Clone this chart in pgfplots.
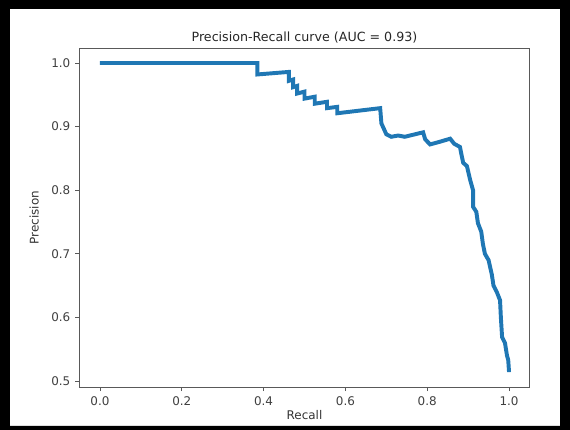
\documentclass[border=0pt]{standalone}
\usepackage{fontspec}
\setmainfont{DejaVu Sans}
\usepackage{pgfplots}
\pgfplotsset{compat=1.18}
\definecolor{mplblue}{HTML}{1F77B4}
\definecolor{spine}{gray}{0.35}

\begin{document}
\begin{tikzpicture}
\begin{axis}[
    at={(0,0)}, anchor=south west,
    scale only axis,
    width=11.25cm, height=8.475cm,
    xmin=-0.05, xmax=1.05,
    ymin=0.4906, ymax=1.0236,
    xtick={0,0.2,...,1.0},
    ytick={0.5,0.6,...,1.0},
    /pgf/number format/assume math mode=true,
    /pgf/number format/.cd, fixed, fixed zerofill, precision=1, /pgfplots/.cd,
    tick label style={font=\fontsize{8.5}{10}\selectfont, text=black!75},
    label style={font=\fontsize{8.5}{10}\selectfont, text=black!80},
    title style={font=\fontsize{9}{11}\selectfont, text=black!85, yshift=-6pt},
    title={Precision-Recall curve (AUC = 0.93)},
    xlabel={Recall}, ylabel={Precision},
    xlabel style={yshift=3pt},
    ylabel style={yshift=2pt},
    tick align=outside, tick pos=left,
    major tick length=3pt,
    every tick/.style={spine, line width=0.6pt},
    axis line style={spine, line width=0.7pt},
    clip=false,
]
\addplot[mplblue, line width=2.8pt, no marks] coordinates {
(0.000,1.000) (0.385,1.000) (0.385,0.982) (0.462,0.986)
(0.462,0.972) (0.472,0.974) (0.472,0.962) (0.482,0.964)
(0.482,0.952) (0.500,0.955) (0.500,0.944) (0.525,0.947)
(0.525,0.936) (0.555,0.939) (0.555,0.929) (0.580,0.931)
(0.580,0.921) (0.685,0.929) (0.688,0.905) (0.700,0.888)
(0.712,0.884) (0.729,0.886) (0.745,0.884) (0.790,0.891)
(0.795,0.880) (0.807,0.872) (0.830,0.876) (0.856,0.881)
(0.866,0.873) (0.880,0.868) (0.884,0.855) (0.888,0.843)
(0.897,0.838) (0.905,0.816) (0.912,0.800) (0.912,0.774)
(0.920,0.766) (0.924,0.748) (0.932,0.735) (0.936,0.716)
(0.941,0.700) (0.950,0.690) (0.958,0.667) (0.962,0.650)
(0.970,0.640) (0.978,0.627) (0.980,0.600) (0.983,0.569)
(0.990,0.560) (0.995,0.540) (0.998,0.533) (1.000,0.514)
};
\end{axis}
\fill[black, even odd rule]
  (-1.9875,-1.075) rectangle (12.2625,9.675)
  (-1.7375,-0.975) rectangle (12.0125,9.450);
\end{tikzpicture}
\end{document}
